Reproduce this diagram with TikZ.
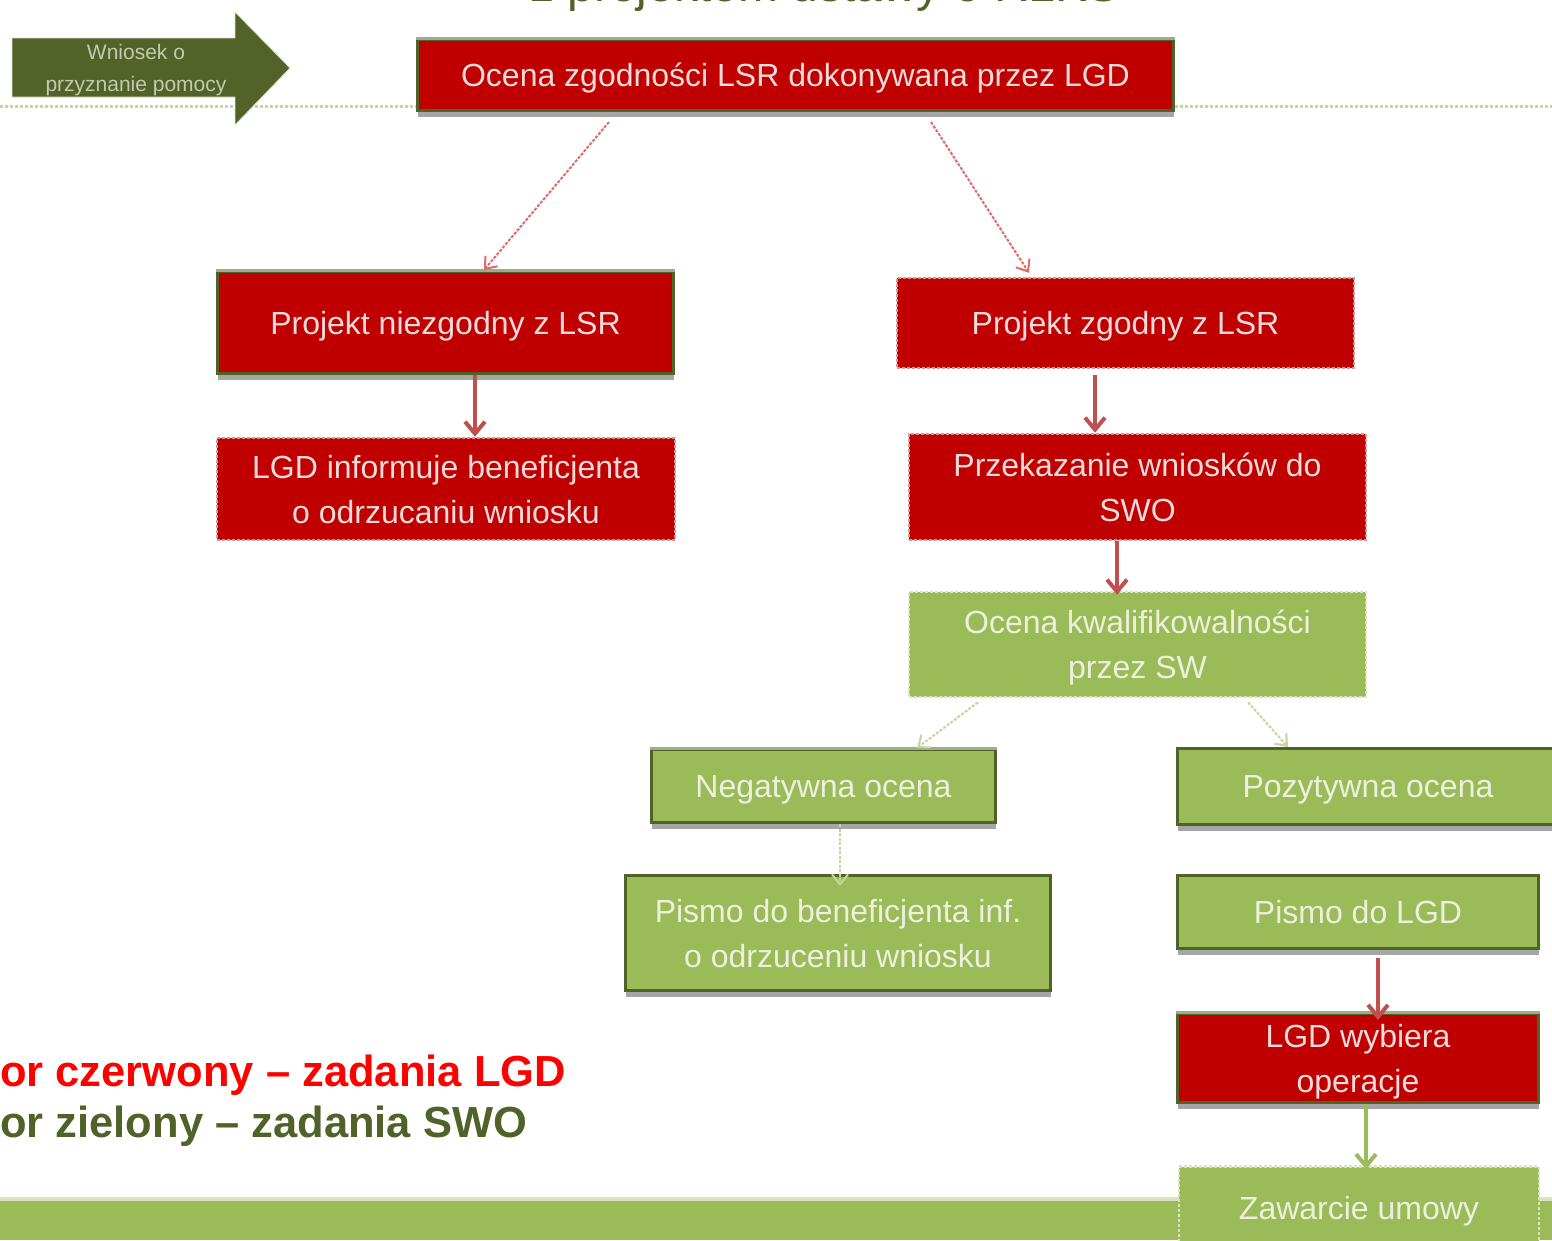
\documentclass[tikz,border=0pt]{standalone}
\usepackage{fontspec}
\setmainfont{Liberation Sans}
\usetikzlibrary{arrows.meta,shadows}
\definecolor{lgdred}{HTML}{C00000}
\definecolor{olivedk}{HTML}{4F6228}
\definecolor{redtxt}{HTML}{F2DCDB}
\definecolor{lgdgreen}{HTML}{9BBB59}
\definecolor{greentxt}{HTML}{EBF1DE}
\definecolor{reddash}{HTML}{D99694}
\definecolor{greendash}{HTML}{D7E4BD}
\definecolor{arrred}{HTML}{C0504D}
\definecolor{thinred}{HTML}{E06A6A}
\definecolor{greenline}{HTML}{C3D69B}
\definecolor{arrowgreen}{HTML}{526229}
\definecolor{wntext}{HTML}{C3CAAE}
\definecolor{legred}{HTML}{FF0000}
\definecolor{topgrey}{HTML}{A3A98A}
\tikzset{
  basebox/.style={inner sep=0pt, align=center, text depth=0pt, font=\fontsize{32}{45}\selectfont},
  shadowed/.style={drop shadow={shadow xshift=0pt, shadow yshift=-6pt, opacity=0.35, fill=black}},
  redsolid/.style={basebox, fill=lgdred, draw=olivedk, line width=3pt, text=redtxt, shadowed},
  reddot/.style={basebox, fill=lgdred, draw=reddash, line width=2.5pt, dash pattern=on 3pt off 2pt, text=redtxt},
  greensolid/.style={basebox, fill=lgdgreen, draw=olivedk, line width=3pt, text=greentxt, shadowed},
  greendot/.style={basebox, fill=lgdgreen, draw=greendash, line width=2.5pt, dash pattern=on 3pt off 2pt, text=greentxt},
  topedge/.style={draw=topgrey, line width=3pt},
  thinredarrow/.style={draw=thinred, line width=2pt, dash pattern=on 3pt off 1.5pt, -{Straight Barb[length=10pt,width=16pt]}},
  thickredarrow/.style={draw=arrred, line width=4pt, -{Straight Barb[length=12pt,width=20pt]}},
  thingreenarrow/.style={draw=greenline, line width=2pt, dash pattern=on 3pt off 1.5pt, -{Straight Barb[length=10pt,width=16pt]}},
  thickgreenarrow/.style={draw=lgdgreen, line width=4pt, -{Straight Barb[length=12pt,width=20pt]}},
  sepline/.style={draw=greenline, line width=3pt, dash pattern=on 3pt off 2pt},
  legend/.style={inner sep=0pt, anchor=base west, font=\fontsize{43.5}{50}\selectfont\bfseries}
}
\begin{document}
\begin{tikzpicture}[x=1pt,y=-1pt]
\useasboundingbox (0,0) rectangle (1552,1240);
\fill[white] (0,0) rectangle (1552,1240);

% title (cut off at top)
\node[inner sep=0pt, anchor=base west, text=olivedk, font=\fontsize{48}{50}\selectfont] (title) at (530,1.5) {z projektem ustawy o RLKS};

% separator line
\draw[sepline] (0,106) -- (1552,106);

% bottom band
\fill[greendash] (0,1197) rectangle (1552,1202);
\fill[lgdgreen] (0,1201) rectangle (1552,1240);

% green arrow
\fill[arrowgreen, draw=greendash, line width=0.8pt] (12,38) -- (235,38) -- (235,12) -- (290,68) -- (235,125) -- (235,97) -- (12,97) -- cycle;
\node[inner sep=0pt, align=center, text=wntext, font=\fontsize{21}{32}\selectfont] (wn) at (136,70) {Wniosek o\\przyznanie pomocy};

% boxes
\node[redsolid, minimum width=756pt, minimum height=71pt] (b1) at (795.5,75) {Ocena zgodności LSR dokonywana przez LGD};
\node[redsolid, minimum width=456pt, minimum height=102pt] (b2) at (445.5,322.5) {Projekt niezgodny z LSR};
\node[reddot, minimum width=458pt, minimum height=102pt] (b3) at (446,489) {LGD informuje beneficjenta\\o odrzucaniu wniosku};
\node[reddot, minimum width=457pt, minimum height=90pt] (b4) at (1125.5,323) {Projekt zgodny z LSR};
\node[reddot, minimum width=457pt, minimum height=106pt] (b5) at (1137.5,487) {Przekazanie wniosków do\\SWO};
\node[greendot, minimum width=457pt, minimum height=105pt] (b6) at (1137.5,644.5) {Ocena kwalifikowalności\\przez SW};
\node[greensolid, minimum width=344pt, minimum height=73pt] (b7) at (823.5,786) {Negatywna ocena};
\node[greensolid, minimum width=381pt, minimum height=76pt] (b8) at (1368,786.5) {Pozytywna ocena};
\node[greensolid, minimum width=425pt, minimum height=115pt] (b9) at (838,933) {Pismo do beneficjenta inf.\\o odrzuceniu wniosku};
\node[greensolid, minimum width=361pt, minimum height=73pt] (b10) at (1358,912) {Pismo do LGD};
\node[redsolid, minimum width=361pt, minimum height=89pt] (b11) at (1358,1058) {LGD wybiera\\operacje};
\node[greendot, minimum width=360pt, minimum height=83pt] (b12) at (1359,1208) {Zawarcie umowy};

% light top edges
\draw[topedge] (b1.north west) -- (b1.north east);
\draw[topedge] (b2.north west) -- (b2.north east);
\draw[topedge] (b7.north west) -- (b7.north east);
\draw[topedge] (b11.north west) -- (b11.north east);

% connectors
\draw[thinredarrow] ([xshift=-186.5pt,yshift=-10pt]b1.south) -- ([xshift=38.5pt]b2.north);
\draw[thinredarrow] ([xshift=135.5pt,yshift=-10pt]b1.south) -- ([xshift=-96.5pt,yshift=4pt]b4.north);
\draw[thickredarrow] ([xshift=29.5pt]b2.south) -- ([xshift=29pt]b3.north);
\draw[thickredarrow] ([xshift=-30.5pt,yshift=-6pt]b4.south) -- ([xshift=-42.5pt]b5.north);
\draw[thickredarrow] ([xshift=-20.5pt]b5.south) -- ([xshift=-20.5pt,yshift=-4pt]b6.north);
\draw[thingreenarrow] ([xshift=-159.5pt,yshift=-4pt]b6.south) -- ([xshift=93.5pt]b7.north);
\draw[thingreenarrow] ([xshift=110.5pt,yshift=-4pt]b6.south) -- ([xshift=-80pt]b8.north);
\draw[thingreenarrow] ([xshift=16.5pt]b7.south) -- ([xshift=2pt,yshift=-12pt]b9.north);
\draw[thickredarrow] ([xshift=20pt,yshift=-8pt]b10.south) -- ([xshift=20pt,yshift=-8pt]b11.north);
\draw[thickgreenarrow] ([xshift=8pt]b11.south) -- ([xshift=7pt,yshift=-4pt]b12.north);

% legend
\node[legend, text=legred] (leg1) at (0,1086) {or czerwony – zadania LGD};
\node[legend, text=olivedk] (leg2) at (0,1137) {or zielony – zadania SWO};
\end{tikzpicture}
\end{document}
